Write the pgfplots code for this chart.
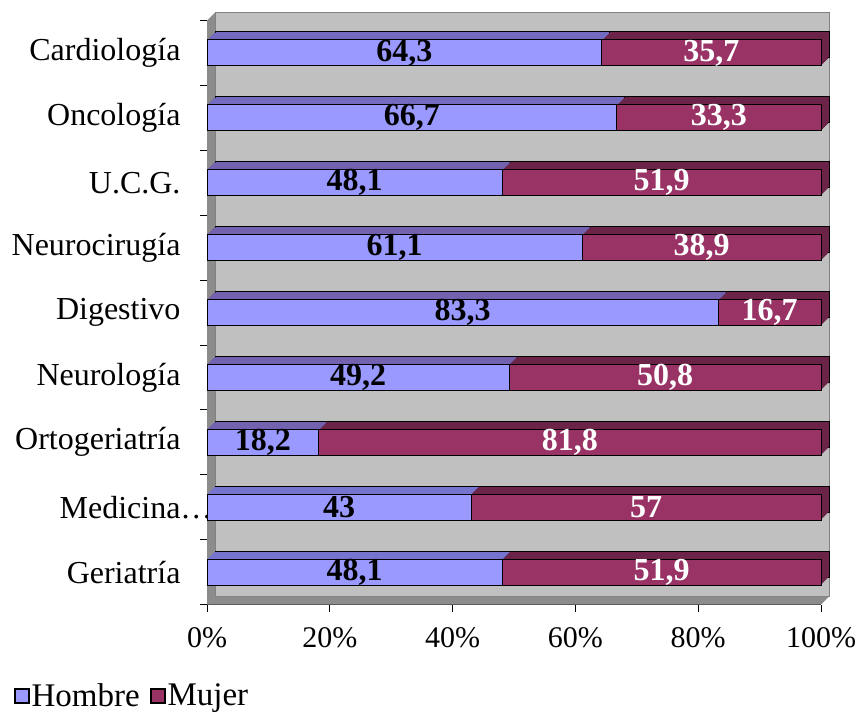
\documentclass[border=0pt]{standalone}
\usepackage{fontspec}
\setmainfont{Liberation Serif}
\usepackage{pgfplots}
\usepackage{pgfplotstable}
\pgfplotsset{compat=1.18}
\definecolor{hcol}{HTML}{9999FF}
\definecolor{hdark}{HTML}{7575CF}
\definecolor{mcol}{HTML}{993366}
\definecolor{mdark}{HTML}{6B2347}
\definecolor{wallback}{HTML}{C0C0C0}
\definecolor{wallside}{HTML}{8C8C8C}
\newcommand\chartfont{\fontsize{30}{34}\selectfont}
\newcommand\catfont{\fontsize{32}{36}\selectfont}
\newcommand\legfont{\fontsize{33}{37}\selectfont}
\pgfplotstableread{
y h m
0 48.1 51.9
1 43 57
2 18.2 81.8
3 49.2 50.8
4 83.3 16.7
5 61.1 38.9
6 48.1 51.9
7 66.7 33.3
8 64.3 35.7
}\datatable
\begin{document}
\begin{tikzpicture}
\path[use as bounding box] (0pt,0pt) rectangle (858pt,-715pt);
\begin{axis}[
  at={(207pt,-604.5pt)}, anchor=south west,
  width=614pt, height=584pt, scale only axis,
  clip=false,
  xmin=0, xmax=100, ymin=-0.5, ymax=8.5,
  axis x line*=bottom, axis y line*=left,
  axis line style={black, line width=1pt},
  tick align=outside,
  major tick length=0pt, minor tick length=7pt,
  tick style={black, line width=0.8pt},
  xtick={0,20,...,100}, minor xtick={0,20,...,100},
  ytick={0,...,8}, minor ytick={-0.5,0.5,...,8.5},
  yticklabels={Geriatría,Medicina\rlap{…},Ortogeriatría,Neurología,Digestivo,Neurocirugía,U.C.G.,Oncología,Cardiología},
  /pgf/number format/assume math mode=true,
  xticklabel={\pgfmathprintnumber{\tick}\%},
  xticklabel style={font=\chartfont, yshift=-20pt},
  yticklabel style={font=\catfont, xshift=-23pt},
  legend image code/.code={\draw[#1] (0pt,-7pt) rectangle (14pt,7pt);},
  legend style={draw=none, fill=none, font=\legfont, inner sep=0pt,
    at={(axis description cs:-0.315,-0.156)}, anchor=west,
    /tikz/every odd column/.append style={column sep=0pt},
    /tikz/every even column/.append style={column sep=8pt}},
  legend columns=2,
  legend cell align=left,
]
\addlegendimage{draw=black, line width=1.8pt, fill=hcol}
\addlegendentry{Hombre}
\addlegendimage{draw=black, line width=1.8pt, fill=mcol}
\addlegendentry{Mujer}
% walls
\fill[wallback, draw=gray] ([xshift=8pt,yshift=8pt]axis cs:0,-0.5) rectangle ([xshift=8pt,yshift=8pt]axis cs:100,8.5);
\fill[wallside] (axis cs:0,-0.5) -- (axis cs:0,8.5) -- ([xshift=8pt,yshift=8pt]axis cs:0,8.5) -- ([xshift=8pt,yshift=8pt]axis cs:0,-0.5) -- cycle;
\fill[wallside] (axis cs:0,-0.5) -- (axis cs:100,-0.5) -- ([xshift=8pt,yshift=8pt]axis cs:100,-0.5) -- ([xshift=8pt,yshift=8pt]axis cs:0,-0.5) -- cycle;
% extrusion (back faces)
\addplot[xbar, bar shift=0pt, bar width=26pt, fill=mdark, draw=black, line width=1pt, xshift=8pt, yshift=8pt, forget plot]
  table[x expr=\thisrow{h}+\thisrow{m}, y=y] {\datatable};
\addplot[xbar, bar shift=0pt, bar width=26pt, fill=hdark, draw=black, line width=1pt, xshift=8pt, yshift=8pt, forget plot]
  table[x=h, y=y] {\datatable};
\pgfplotsinvokeforeach{7,6,5,4,3,2,1}{
\addplot[xbar, bar shift=0pt, bar width=26pt, fill=mdark, draw=none, xshift=#1pt, yshift=#1pt, forget plot]
  table[x expr=\thisrow{h}+\thisrow{m}, y=y] {\datatable};
\addplot[xbar, bar shift=0pt, bar width=26pt, fill=hdark, draw=none, xshift=#1pt, yshift=#1pt, forget plot]
  table[x=h, y=y] {\datatable};
}
% front faces
\addplot[xbar, bar shift=0pt, bar width=26pt, fill=mcol, draw=black, line width=1pt, forget plot]
  table[x expr=\thisrow{h}+\thisrow{m}, y=y] {\datatable};
\addplot[xbar, bar shift=0pt, bar width=26pt, fill=hcol, draw=black, line width=1pt, forget plot]
  table[x=h, y=y] {\datatable};
% labels
\addplot[only marks, mark=none, forget plot, point meta=explicit,
  nodes near coords={\pgfmathprintnumber[fixed,precision=1,use comma]{\pgfplotspointmeta}},
  every node near coord/.append style={anchor=center, font=\catfont\bfseries, text=black}]
  table[x expr=\thisrow{h}/2, y=y, meta=h] {\datatable};
\addplot[only marks, mark=none, forget plot, point meta=explicit,
  nodes near coords={\pgfmathprintnumber[fixed,precision=1,use comma]{\pgfplotspointmeta}},
  every node near coord/.append style={anchor=center, font=\catfont\bfseries, text=white}]
  table[x expr=\thisrow{h}+\thisrow{m}/2, y=y, meta=m] {\datatable};
\end{axis}
\end{tikzpicture}
\end{document}
